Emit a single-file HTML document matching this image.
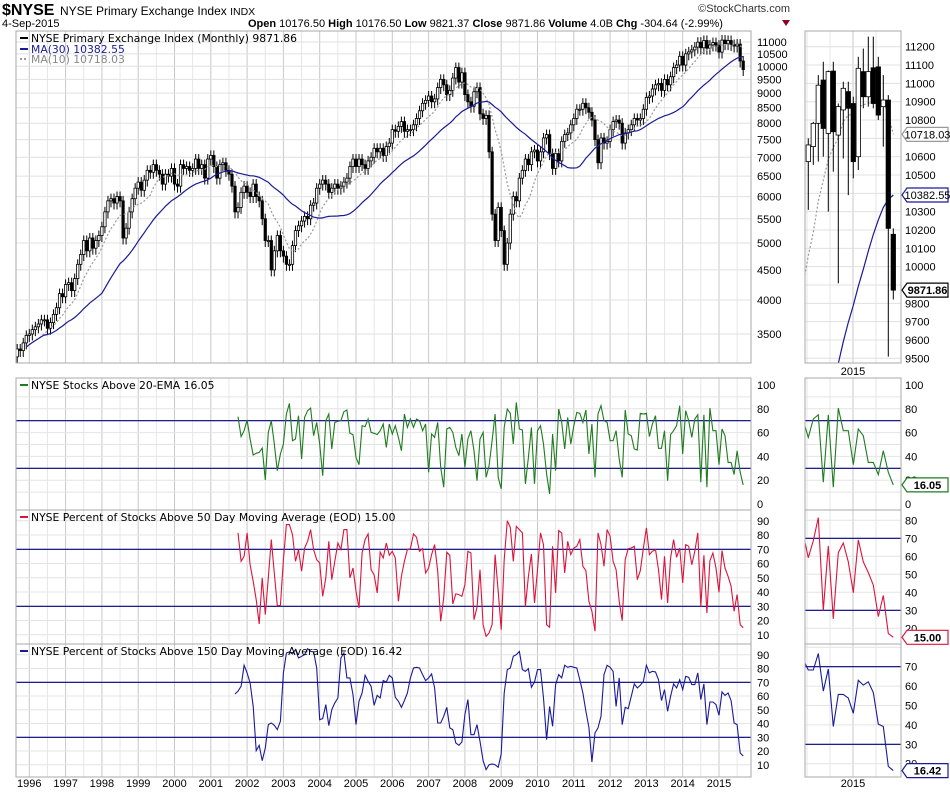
<!DOCTYPE html>
<html><head><meta charset="utf-8">
<style>
html,body{margin:0;padding:0;background:#fff;width:950px;height:795px;overflow:hidden;}
svg{display:block;font-family:"Liberation Sans",Arial,sans-serif;}
.ax{font-size:11px;fill:#000;}
.lg{font-family:"DejaVu Sans",Verdana,sans-serif;font-size:10.8px;}
</style></head>
<body>
<svg id="chart" width="950" height="795" viewBox="0 0 950 795" xmlns="http://www.w3.org/2000/svg">
<rect x="0" y="0" width="950" height="795" fill="#fff"/>
<g>
<text x="2" y="15" font-size="16" font-weight="bold">$NYSE</text>
<text x="60" y="15" font-size="12">NYSE Primary Exchange Index <tspan font-size="10.5">INDX</tspan></text>
<text x="2" y="27" font-size="11">4-Sep-2015</text>
<text x="790" y="12" font-size="11" text-anchor="end" fill="#333">©StockCharts.com</text>
<text x="248" y="27" font-size="11"><tspan font-weight="bold">Open</tspan> 10176.50 <tspan font-weight="bold">High</tspan> 10176.50 <tspan font-weight="bold">Low</tspan> 9821.37 <tspan font-weight="bold">Close</tspan> 9871.86 <tspan font-weight="bold">Volume</tspan> 4.0B <tspan font-weight="bold">Chg</tspan> -304.64 (-2.99%)</text>
<polygon points="782,20 790,20 786,26" fill="#8b0020"/>
</g>
<g id="grid"></g>
<g id="marks"></g>
<g id="frames"></g>
<g id="labels"></g>
</svg>
<script>
// ---- data ----
const closes = [
3200,3300,3280,3380,3480,
3500,3560,3600,3640,3700,3700,3580,3660,3780,3880,4100,4050,
4250,4280,4150,4350,4600,4780,5050,4850,5100,4900,5050,5150,
5330,5650,5900,5950,5850,6000,5900,5100,5300,5650,5950,6200,
6350,6150,6400,6650,6600,6800,6650,6550,6300,6550,6500,6700,
6300,6250,6800,6700,6750,6650,6700,6950,6700,6800,6450,6950,
7050,6750,6450,6800,6850,6650,6550,6250,5650,5750,6100,6250,
6100,6000,6300,6000,5900,5500,5050,5050,4500,4850,5150,4850,
4750,4600,4600,4950,5250,5350,5450,5550,5500,5800,5850,6200,
6300,6400,6300,6100,6200,6300,6200,6250,6350,6450,6750,6950,
6750,6950,6800,6700,6900,7000,7250,7150,7250,7050,7300,7400,
7800,7750,7900,8050,7750,7800,7800,7950,8150,8400,8650,8750,
8900,8700,8800,9200,9500,9300,8950,9100,9550,9950,9400,9750,
8950,8700,8550,9050,9200,8300,8150,8250,7150,5600,5050,5750,
5250,4600,5000,5600,6000,5900,6450,6650,6950,6800,7150,7200,
6900,7150,7550,7650,7100,6700,7100,6900,7450,7650,7700,7950,
8150,8450,8450,8650,8500,8350,8100,7500,6850,7550,7400,7450,
7800,8050,8100,8000,7400,7700,7800,7950,8150,8100,8150,8450,
8850,8900,9150,9300,9350,9100,9500,9300,9600,9950,10050,10400,
10050,10500,10580,10664,10782,10990,10754,11064,10736,10873,10973,10864,
10573,11082,10927,11064,10890,10827,10909,10209,9871.86];
const miniOpen  = [10573,10655,10782,11018,10727,11067,10718,10855,10955,10890,10600,11064,10927,11085,11090,10873,10909,10176.5];
const miniClose = [10664,10782,10990,10754,11064,10736,10873,10973,10864,10573,11082,10927,11064,10890,10827,10909,10209,9871.86];
const miniHigh  = [10700,10790,11045,11118,11070,11118,10890,11009,11009,10927,11145,11190,11255,11255,11145,11045,10936,10209];
const miniLow   = [10310,10555,10573,10600,10300,10518,9909,10590,10390,10482,10527,10864,10873,10864,10800,10655,9509,9821];
const green = [73.4,56.6,61.6,70.6,54.6,41.2,42.6,43.4,47,20.2,60.2,70,50.4,28,42,50.4,75.6,84.5,53.2,54.6,74.2,37.8,72.8,78.4,80.6,57.4,68.6,50.4,23.8,70,75.6,46.2,68.6,69.4,70,77.6,79,59.4,58.3,39.2,33,65.8,
65,71.4,60.2,59.4,58.3,61.6,67.2,47.6,67.2,58.8,65.8,56,44.8,75.6,64.4,71.4,64.4,71.4,70,61.6,67.2,26.6,58.8,56,68.6,30.8,14.1,63,64.4,60.2,47.6,40.6,58.8,30.8,54.6,61.6,44.8,19.6,54.6,60.2,22.4,32.2,
53.2,75.6,22.4,12.7,64.4,79.8,76.2,50.4,85.4,63,62.2,16.9,39.2,64.4,16.9,61.6,65.8,50.4,25.2,8.5,58.8,28,79.8,68.6,46.2,72.8,50.4,65.8,77,76.2,68.6,79,42,67.2,22.4,75.6,82.6,70,68.6,53.2,53.2,61.6,37.8,
22.4,79,58.8,57.4,46.2,45.4,76.2,75.6,76.2,56.6,67.2,74.2,46.8,46.8,61.6,19.6,58.3,61.6,65.8,82.6,42,78.4,70,56,71.4,75,18.3,75,14.1,80.6,61.6,61.6,33,63,57.4,35,35,24.7,44.8,26.6,16.05];
const red = [81.5,61.6,65.1,81.5,59.2,47.5,34.7,17.6,49.9,24.2,49.9,76.8,53.4,30.5,30.5,62.7,87.3,87.3,80.3,61.6,69.8,54.6,70.9,75.6,83.8,69.8,62.7,60.4,37,49.9,75.6,48.7,61.6,74.4,69.8,83.8,83.8,49.9,56.9,40.5,28.8,
67.4,76.8,80.8,55.7,52.2,39.4,68.1,63.9,74.4,65.8,68.6,63.9,33.5,51,61.6,69.8,70.5,80.8,78.4,68.6,70.5,53.4,56.9,66.3,73.3,54.6,19.5,35.8,67.9,65.8,31.6,38.7,38.2,37,45.2,68.6,67.4,20.6,29.3,55.7,17.1,8.9,
11.3,17.1,66.3,40.5,13.6,62.7,90.1,85.4,61.6,86.1,83.8,81.5,30,51,66.7,32.3,55.7,81.5,73.3,17.1,15.3,72.1,39.4,83.1,81.5,53.4,75.6,66.3,70.9,72.1,76.8,58.1,55,33.5,26.5,12.5,81.5,73.3,58.1,83.8,79.1,61.6,55.7,33.5,
19.9,62.7,70.5,70.9,72.1,48.7,55,70.9,85,66.3,68.6,69.8,55.7,34.7,65.1,32.3,63.9,76.8,64.4,70.9,46.4,73.3,72.1,59.2,68.6,81.5,30,65.8,25.3,62,67.4,56.9,39.8,69.1,56.9,51,44,26.5,38.2,17.1,15];
const blue = [61.5,63.5,67.1,82.4,76.8,69.5,52.5,20.3,24.2,13,22.2,39.2,40.4,38.7,35.6,41.6,76.8,91.3,92.1,90.6,93.8,87.7,88.9,90.1,94.5,92.5,92.1,80.4,42.8,43.6,53.8,38.5,50.1,55,58.6,87.7,91.3,73.2,73.2,61,39.2,
56.2,62.2,75.1,70.7,67.1,53.3,60.5,58.6,71.2,70.2,75.1,73.2,59.1,56.2,51.8,56.7,62.2,73.2,80.4,80.9,80.4,75.6,71.2,73.2,76.1,65.9,40.4,40.4,45.3,51.8,36.8,35.6,25.9,24.2,26.6,46.5,57.4,31.9,31.9,39.2,27.1,13,
6.5,10.1,10.6,10.1,8.2,17.9,62.2,79.2,80.4,88.9,90.1,92.5,79.2,78,79.9,66.4,70.2,79.2,79.2,58.6,28.3,52.5,38,68.3,75.6,73.2,82.4,80.9,81.6,80.9,80.4,71.9,62.2,48.9,37.3,12.1,33.2,36.8,45.3,75.6,82.4,80.9,78,52.5,
73.2,39.2,51.8,50.8,59.8,68.8,65.9,67.8,70.7,82.4,76.8,78,77.5,71.9,56.7,64.7,48.9,59.8,68.8,65.9,71.9,64.7,74.4,73.6,68.3,68.3,76.8,57.4,68.8,39.2,55.7,55.7,53.8,46,63,60.5,62.2,56.7,40.4,39.2,18.6,16.42];
const years = [1996,1997,1998,1999,2000,2001,2002,2003,2004,2005,2006,2007,2008,2009,2010,2011,2012,2013,2014,2015];
const mainTicks = [11000,10500,10000,9500,9000,8500,8000,7500,7000,6500,6000,5500,5000,4500,4000,3500];
const miniTicks = [11200,11100,11000,10900,10800,10600,10500,10300,10200,10100,10000,9800,9700,9600,9500];
const greenTicks = [100,80,60,40,20,0];
const pctTicks = [90,80,70,60,50,40,30,20,10];
const miniRedTicks = [80,70,60,50,40,30,20];
const miniBlueTicks = [70,60,50,40,30,20];

// ---- geometry ----
const NS="http://www.w3.org/2000/svg";
const M={l:16,r:751,t:31,b:363}, MM={l:805,r:901};
const P2={t:378,b:510}, P3={t:510,b:644}, P4={t:644,b:777};
const N=closes.length;
const xm=i=>29.3+(i-5)*3.025;
const ym=v=>42+255*Math.log(11000/v);
const yMini=v=>46.7+(11200-v)*0.1833;
const y2=v=>504-v*1.19;
const y3=v=>549.3+(70-v)*1.425;
const y4=v=>682.3+(70-v)*1.375;
const y3m=v=>538.3+(70-v)*1.8;
const y4m=v=>666.7+(70-v)*1.94;
const nMini=miniClose.length;
const xMini=k=>808.3+k*5.0;
const yearX=y=>29.3+(y-1996)*36.3;

function mk(parent,tag,attrs){const e=document.createElementNS(NS,tag);for(const k in attrs)e.setAttribute(k,attrs[k]);document.getElementById(parent).appendChild(e);return e;}

const defs=document.createElementNS(NS,'defs');document.getElementById('chart').prepend(defs);
function clip(id,x,y,w,h){const c=document.createElementNS(NS,'clipPath');c.setAttribute('id',id);const r=document.createElementNS(NS,'rect');r.setAttribute('x',x);r.setAttribute('y',y);r.setAttribute('width',w);r.setAttribute('height',h);c.appendChild(r);defs.appendChild(c);}
clip('cM',M.l,M.t,M.r-M.l,M.b-M.t);clip('cMm',MM.l,M.t,MM.r-MM.l,M.b-M.t);
clip('c2',M.l,P2.t,M.r-M.l,P2.b-P2.t);clip('c2m',MM.l,P2.t,MM.r-MM.l,P2.b-P2.t);
clip('c3',M.l,P3.t,M.r-M.l,P3.b-P3.t);clip('c3m',MM.l,P3.t,MM.r-MM.l,P3.b-P3.t);
clip('c4',M.l,P4.t,M.r-M.l,P4.b-P4.t);clip('c4m',MM.l,P4.t,MM.r-MM.l,P4.b-P4.t);

// ---- grids ----
const panels=[[M.t,M.b],[P2.t,P2.b],[P3.t,P3.b],[P4.t,P4.b]];
panels.forEach(([t,b])=>{
  years.forEach(y=>{
    const x=yearX(y);
    const gl=mk('grid','line',{x1:x,x2:x,y1:t,y2:b,stroke:'#c8c8c8','stroke-width':1});
    
    
    const xh=x+18.15;
    if(xh<M.r){const g2=mk('grid','line',{x1:xh,x2:xh,y1:t,y2:b,stroke:'#e6e6e6','stroke-width':1});
    
    }
  });
  [MM.l+2,MM.l+25,853,876].forEach(x=>{const g=mk('grid','line',{x1:x,x2:x,y1:t,y2:b,stroke:x===853?'#c8c8c8':'#e6e6e6','stroke-width':1});
    
    });
});
mainTicks.forEach(v=>{const g=mk('grid','line',{x1:M.l,x2:M.r,y1:ym(v),y2:ym(v),stroke:'#e0e0e0'});
  
  });
miniTicks.concat([10700,10400,9900]).forEach(v=>{const g=mk('grid','line',{x1:MM.l,x2:MM.r,y1:yMini(v),y2:yMini(v),stroke:'#e0e0e0'});
  
  });
for(let v=10;v<100;v+=10){
  [[y2,P2],[y3,P3],[y4,P4]].forEach(([f,P])=>{const yy=f(v);if(yy>P.t&&yy<P.b){const g=mk('grid','line',{x1:M.l,x2:M.r,y1:yy,y2:yy,stroke:'#e4e4e4'});
    
    }});
  [[y2,P2],[y3m,P3],[y4m,P4]].forEach(([f,P])=>{const yy=f(v);if(yy>P.t&&yy<P.b){const g=mk('grid','line',{x1:MM.l,x2:MM.r,y1:yy,y2:yy,stroke:'#e4e4e4'});
    
    }});
}

// ---- main candles ----
const gMain=mk('marks','g',{'clip-path':'url(#cM)'});


gMain.id='gMain';
for(let i=0;i<N;i++){
  const c=closes[i], o=i>0?closes[i-1]:c*0.97;
  const hi=Math.max(o,c)*1.02, lo=Math.min(o,c)*0.975;
  const x=xm(i);
  const w=mk('gMain','line',{x1:x,x2:x,y1:Math.max(M.t,ym(hi)),y2:Math.min(M.b,ym(lo)),stroke:'#000','stroke-width':1});
  
  
  const top=ym(Math.max(o,c)), bot=ym(Math.min(o,c));
  const b=mk('gMain','rect',{x:x-1.2,y:top,width:2.4,height:Math.max(1,bot-top),fill:c>=o?'#fff':'#000',stroke:'#000','stroke-width':0.8});
  
  
}
function sma(n){const out=[];for(let i=0;i<N;i++){const s=Math.max(0,i-n+1);if(i<4){out.push(null);continue;}let t=0;for(let j=s;j<=i;j++)t+=closes[j];out.push(t/(i-s+1));}return out;}
const ma30=sma(30), ma10=sma(10);
function pathFrom(vals,xf,yf,startIdx){let d='';vals.forEach((v,k)=>{if(v==null)return;d+=(d?'L':'M')+xf(k+startIdx).toFixed(1)+','+yf(v).toFixed(1);});return d;}
const p10=mk('gMain','path',{d:pathFrom(ma10,xm,ym,0),fill:'none',stroke:'#999','stroke-width':1.2,'stroke-dasharray':'2,2'});


const p30=mk('gMain','path',{d:pathFrom(ma30,xm,ym,0),fill:'none',stroke:'#1a1a99','stroke-width':1.2});



// ---- mini candles ----
const gMini=mk('marks','g',{'clip-path':'url(#cMm)'});gMini.id='gMini';


const off=N-nMini;
const xMiniFull=i=>xMini(i-off);
const ma10m=ma10.slice(off-4), ma30m=ma30.slice(off-4);
const p10m=mk('gMini','path',{d:pathFrom(ma10m,xMini,yMini,-4),fill:'none',stroke:'#999','stroke-width':1.2,'stroke-dasharray':'2,2'});


const p30m=mk('gMini','path',{d:pathFrom(ma30m,xMini,yMini,-4),fill:'none',stroke:'#1a1a99','stroke-width':1.2});


for(let k=0;k<nMini;k++){
  const o=miniOpen[k],c=miniClose[k],x=xMini(k);
  const w=mk('gMini','line',{x1:x,x2:x,y1:yMini(miniHigh[k]),y2:yMini(miniLow[k]),stroke:'#000','stroke-width':1});
  
  
  const top=yMini(Math.max(o,c)),bot=yMini(Math.min(o,c));
  const b=mk('gMini','rect',{x:x-2.2,y:top,width:4.4,height:Math.max(1,bot-top),fill:c>=o?'#fff':'#000',stroke:'#000','stroke-width':0.8});
  
  
}

// ---- indicator panels ----
function indicator(arr,color,yf,yfm,P,cid,cidm,name){
  const start=N-arr.length;
  [70,30].forEach(v=>{
    const l=mk('marks','line',{x1:M.l,x2:M.r,y1:yf(v),y2:yf(v),stroke:'#000080','stroke-width':1.2});
    
    
    const lm=mk('marks','line',{x1:MM.l,x2:MM.r,y1:yfm(v),y2:yfm(v),stroke:'#000080','stroke-width':1.2});
    
    
  });
  const p=mk('marks','path',{d:pathFrom(arr,xm,yf,start),fill:'none',stroke:color,'stroke-width':1.1,'clip-path':'url(#'+cid+')'});
  
  
  const m=arr.slice(-19);
  const pm=mk('marks','path',{d:pathFrom(m,k=>xMini(k-1),yfm,0),fill:'none',stroke:color,'stroke-width':1.1,'clip-path':'url(#'+cidm+')'});
  
  
}
indicator(green,'#1e7b1e',y2,y2,P2,'c2','c2m','above-20ema');
indicator(red,'#dc143c',y3,y3m,P3,'c3','c3m','above-50dma');
indicator(blue,'#1a1a99',y4,y4m,P4,'c4','c4m','above-150dma');

// ---- frames ----
[[M.t,M.b],[P2.t,P2.b],[P3.t,P3.b],[P4.t,P4.b]].forEach(([t,b])=>{
  const f=mk('frames','rect',{x:M.l,y:t,width:M.r-M.l,height:b-t,fill:'none',stroke:'#aaa'});
  
  
  const fm=mk('frames','rect',{x:MM.l,y:t,width:MM.r-MM.l,height:b-t,fill:'none',stroke:'#aaa'});
  
  
});

// ---- labels ----
function txt(x,y,s,attrs){const t=mk('labels','text',Object.assign({x:x,y:y},attrs||{}));t.textContent=s;return t;}
mainTicks.forEach(v=>{const t=txt(757,ym(v)+4,v,{class:'ax'});
  
  });
miniTicks.forEach(v=>{const t=txt(905,yMini(v)+4,v,{class:'ax'});
  
  });
greenTicks.forEach(v=>{
  const a=txt(757,y2(v)+4,v,{class:'ax'});
  
  
  const b=txt(905,y2(v)+4,v,{class:'ax'});
  
  
});
pctTicks.forEach(v=>{
  const a=txt(757,y3(v)+4,v,{class:'ax'});
  
  
  const b=txt(757,y4(v)+4,v,{class:'ax'});
  
  
});
miniRedTicks.forEach(v=>{const t=txt(905,y3m(v)+4,v,{class:'ax'});
  
  });
miniBlueTicks.forEach(v=>{const t=txt(905,y4m(v)+4,v,{class:'ax'});
  
  });
years.forEach(y=>{const t=txt(yearX(y),787,y,{class:'ax','text-anchor':'middle'});
  
  });
const t15=txt(853,787,'2015',{class:'ax','text-anchor':'middle'});


const t15b=txt(853,375,'2015',{class:'ax','text-anchor':'middle'});



// value tags
function tag(y,s,color,bold,name){
  const g=mk('labels','path',{d:`M902,${y} L907,${y-7} L948,${y-7} L948,${y+7} L907,${y+7} Z`,fill:'#fff',stroke:color,'stroke-width':1.2});
  
  
  const t=txt(927.5,y+4,s,{class:'ax','text-anchor':'middle','font-size':'10.5','font-weight':bold?'bold':'normal'});
  
  
}
tag(yMini(ma10[N-1]),'10718.03','#999',false,'ma10-value-tag');
tag(yMini(ma30[N-1]),'10382.55','#1a1a99',false,'ma30-value-tag');
tag(yMini(closes[N-1]),'9871.86','#000',true,'close-value-tag');
tag(y2(green[green.length-1]),'16.05','#1e7b1e',true,'ema20-value-tag');
tag(y3m(red[red.length-1]),'15.00','#dc143c',true,'dma50-value-tag');
tag(y4m(blue[blue.length-1]),'16.42','#1a1a99',true,'dma150-value-tag');

// legends
function legend(y,swColor,s,color,name,dashed){
  const l=mk('labels','line',{x1:20,x2:28,y1:y-4,y2:y-4,stroke:swColor,'stroke-width':2,'stroke-dasharray':dashed?'2,2':'none'});
  
  
  const t=txt(31,y,s,{class:'lg',fill:color});
  
  
}
legend(42,'#000','NYSE Primary Exchange Index (Monthly) 9871.86','#000','price-legend',false);
legend(53,'#1a1a99','MA(30) 10382.55','#1a1a99','ma30-legend',false);
legend(63,'#999','MA(10) 10718.03','#888','ma10-legend',true);
legend(389,'#1e7b1e','NYSE Stocks Above 20-EMA 16.05','#000','ema20-legend',false);
legend(521,'#dc143c','NYSE Percent of Stocks Above 50 Day Moving Average (EOD) 15.00','#000','dma50-legend',false);
legend(655,'#1a1a99','NYSE Percent of Stocks Above 150 Day Moving Average (EOD) 16.42','#000','dma150-legend',false);
</script>
</body></html>
